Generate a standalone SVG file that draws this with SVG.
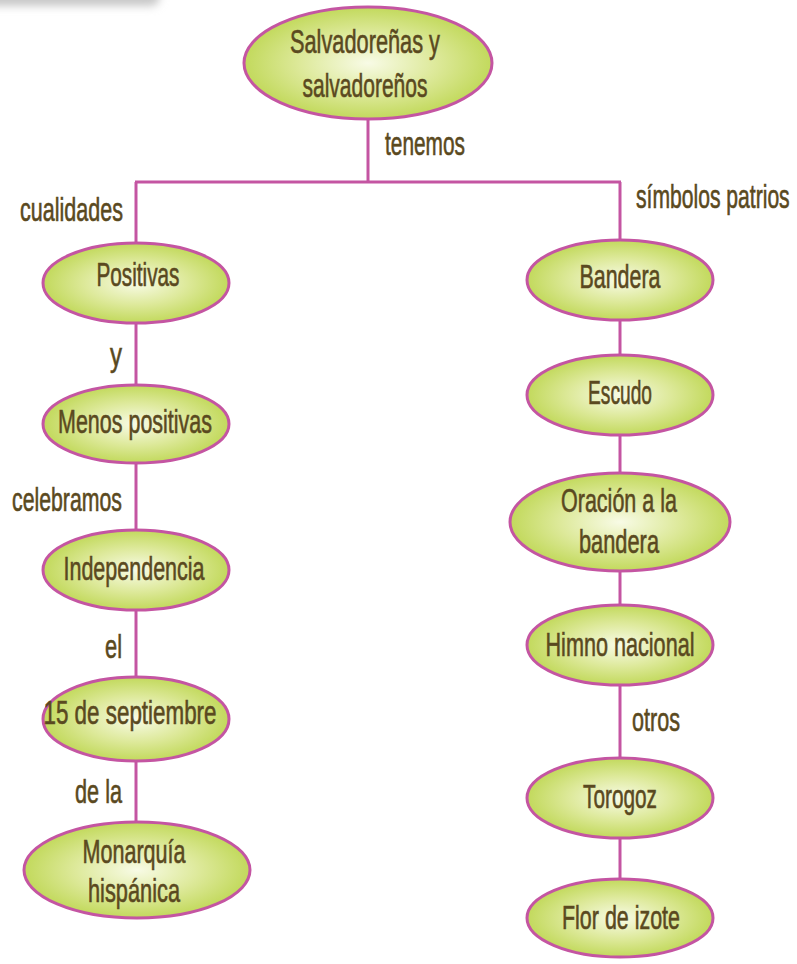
<svg xmlns="http://www.w3.org/2000/svg" width="797" height="964" viewBox="0 0 797 964">
<defs>
<radialGradient id="g" cx="50%" cy="50%" r="50%">
<stop offset="0" stop-color="#f8fbe6"/>
<stop offset="0.55" stop-color="#dde99a"/>
<stop offset="1" stop-color="#c2d95c"/>
</radialGradient>
<filter id="blur" x="-20%" y="-200%" width="140%" height="500%"><feGaussianBlur stdDeviation="4"/></filter>
</defs>
<style>
ellipse{fill:url(#g);stroke:#c455a2;stroke-width:3}
line{stroke:#c455a2;stroke-width:3}
text{font-family:"Liberation Sans",Arial,sans-serif;font-size:33px;fill:#5a4920;stroke:#5a4920;stroke-width:0.6;text-anchor:middle}
.l{text-anchor:start}
</style>
<rect width="797" height="964" fill="#ffffff"/>
<rect x="-20" y="-12" width="180" height="18" rx="9" fill="#c8c8c8" filter="url(#blur)"/>
<g id="connectors">
<line x1="368" y1="119" x2="368" y2="182"/>
<line x1="135" y1="182" x2="621" y2="182"/>
<line x1="136" y1="182" x2="136" y2="244"/>
<line x1="620" y1="182" x2="620" y2="241"/>
<line x1="136" y1="322" x2="136" y2="386"/>
<line x1="136" y1="462" x2="136" y2="531"/>
<line x1="136" y1="609" x2="136" y2="678"/>
<line x1="136" y1="760" x2="136" y2="823"/>
<line x1="620" y1="320" x2="620" y2="356"/>
<line x1="620" y1="434" x2="620" y2="473"/>
<line x1="620" y1="571" x2="620" y2="607"/>
<line x1="620" y1="684" x2="620" y2="759"/>
<line x1="620" y1="837" x2="620" y2="880"/>
</g>
<g id="labels">
<text x="385" y="155" class="l" textLength="80" lengthAdjust="spacingAndGlyphs">tenemos</text>
<text x="20" y="221" class="l" textLength="103" lengthAdjust="spacingAndGlyphs">cualidades</text>
<text transform="translate(636,208) scale(0.64,1)" x="0" y="0" class="l" stroke-width="0.8">símbolos patrios</text>
<text x="110" y="366" class="l" textLength="12" lengthAdjust="spacingAndGlyphs">y</text>
<text x="12" y="511" class="l" textLength="110" lengthAdjust="spacingAndGlyphs">celebramos</text>
<text x="105" y="658" class="l" textLength="17" lengthAdjust="spacingAndGlyphs">el</text>
<text x="75" y="803" class="l" textLength="47" lengthAdjust="spacingAndGlyphs">de la</text>
<text x="632" y="731" class="l" textLength="48" lengthAdjust="spacingAndGlyphs">otros</text>
</g>
<g id="n-salvadorenos">
<ellipse cx="368" cy="63" rx="124" ry="56"/>
<text x="365" y="53" textLength="150" lengthAdjust="spacingAndGlyphs">Salvadoreñas y</text>
<text x="365" y="97" textLength="125" lengthAdjust="spacingAndGlyphs">salvadoreños</text>
</g>
<g id="n-positivas">
<ellipse cx="136" cy="283" rx="93" ry="40"/>
<text x="138" y="286" textLength="83" lengthAdjust="spacingAndGlyphs">Positivas</text>
</g>
<g id="n-menos">
<ellipse cx="136" cy="424" rx="93" ry="39"/>
<text x="135" y="433" textLength="154" lengthAdjust="spacingAndGlyphs">Menos positivas</text>
</g>
<g id="n-independencia">
<ellipse cx="136" cy="570" rx="93" ry="40"/>
<text x="134" y="580" textLength="141" lengthAdjust="spacingAndGlyphs">Independencia</text>
</g>
<g id="n-15">
<ellipse cx="136" cy="719" rx="93" ry="42"/>
<text x="130" y="724" textLength="173" lengthAdjust="spacingAndGlyphs">15 de septiembre</text>
</g>
<g id="n-monarquia">
<ellipse cx="137" cy="870" rx="113" ry="48"/>
<text x="134" y="863" textLength="103" lengthAdjust="spacingAndGlyphs">Monarquía</text>
<text x="134" y="902" textLength="92" lengthAdjust="spacingAndGlyphs">hispánica</text>
</g>
<g id="n-bandera">
<ellipse cx="620" cy="280" rx="93" ry="40"/>
<text x="620" y="288" textLength="81" lengthAdjust="spacingAndGlyphs">Bandera</text>
</g>
<g id="n-escudo">
<ellipse cx="620" cy="395" rx="93" ry="40"/>
<text x="620" y="404" textLength="64" lengthAdjust="spacingAndGlyphs">Escudo</text>
</g>
<g id="n-oracion">
<ellipse cx="620" cy="522" rx="110" ry="49"/>
<text x="619" y="512" textLength="116" lengthAdjust="spacingAndGlyphs">Oración a la</text>
<text x="619" y="553" textLength="80" lengthAdjust="spacingAndGlyphs">bandera</text>
</g>
<g id="n-himno">
<ellipse cx="620" cy="645" rx="93" ry="40"/>
<text x="620" y="656" textLength="149" lengthAdjust="spacingAndGlyphs">Himno nacional</text>
</g>
<g id="n-torogoz">
<ellipse cx="620" cy="798" rx="93" ry="40"/>
<text x="620" y="808" textLength="74" lengthAdjust="spacingAndGlyphs">Torogoz</text>
</g>
<g id="n-flor">
<ellipse cx="620" cy="918" rx="93" ry="39"/>
<text x="621" y="929" textLength="118" lengthAdjust="spacingAndGlyphs">Flor de izote</text>
</g>
</svg>
